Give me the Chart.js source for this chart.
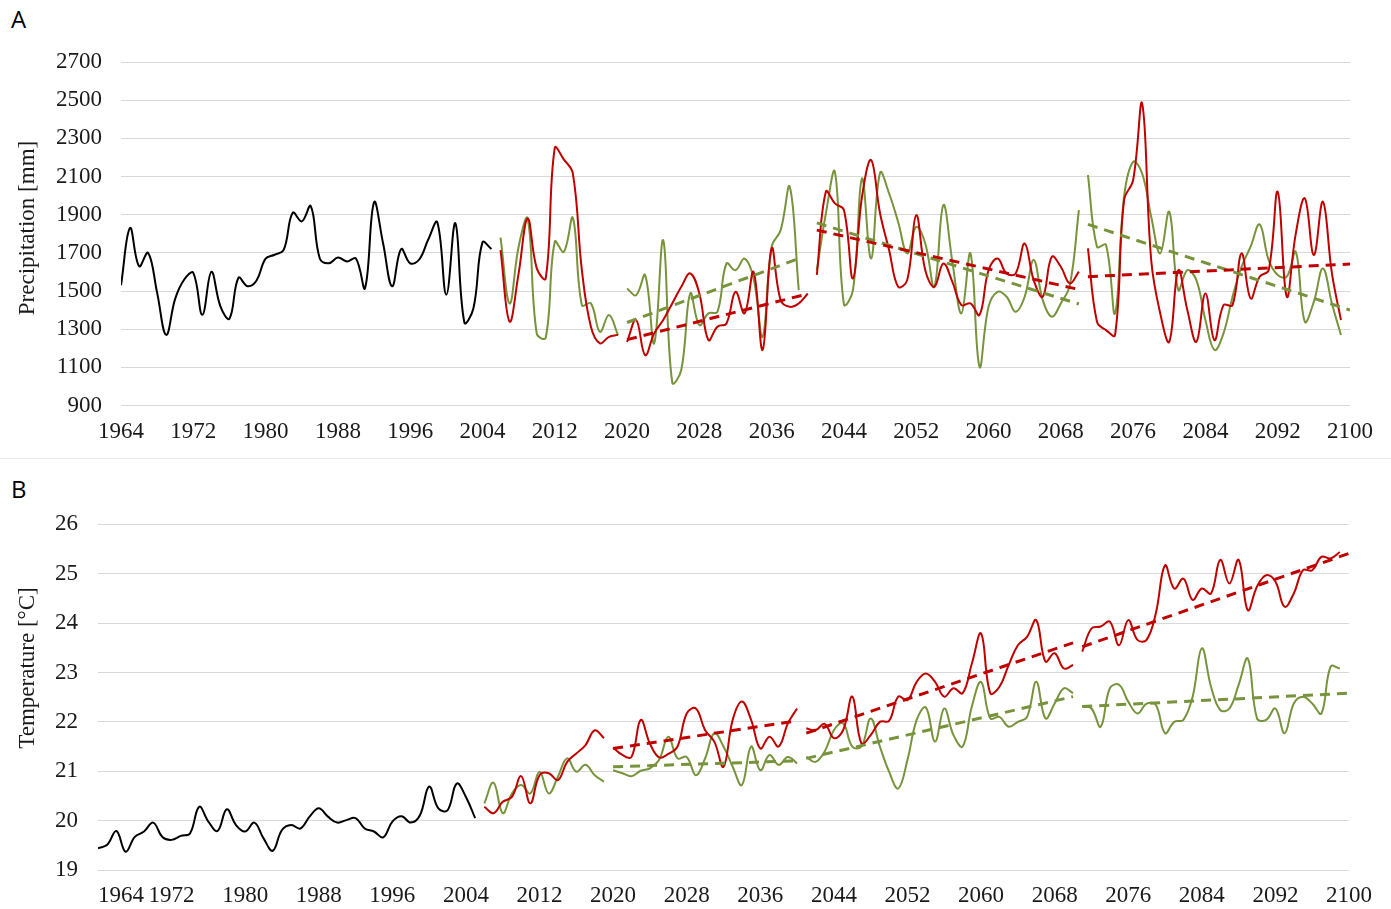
<!DOCTYPE html>
<html>
<head>
<meta charset="utf-8">
<title>Precipitation and temperature 1964–2100</title>
<script src="https://cdn.jsdelivr.net/npm/chart.js@4.4.1/dist/chart.umd.min.js"></script>
<style>
    html, body { margin: 0; padding: 0; background: #fff; }
    body { width: 1391px; height: 909px; position: relative; overflow: hidden; }
    .panel-label {
        position: absolute; left: 11px;
        font-family: 'Open Sans', 'Liberation Sans', sans-serif;
        font-size: 24px; line-height: 24px; color: #000;
    }
    .divider { position: absolute; left: 0; top: 458px; width: 1391px; height: 1px; background: #e6e6e6; }
    #precipChart { position: absolute; left: 0; top: 0; }
    #tempChart { position: absolute; left: 0; top: 460px; }
</style>
</head>
<body>
<div class="panel-label" style="top:7px">A</div>
<canvas id="precipChart" width="1391" height="458"></canvas>
<div class="divider"></div>
<div class="panel-label" style="top:477px">B</div>
<canvas id="tempChart" width="1391" height="449"></canvas>

<script>
// ---- Axis ranges / ticks ----
const YEAR_FIRST = 1964;
const YEAR_LAST = 2100;
const YEAR_STEP = 8;
const PRECIP_TICKS = [900, 2700, 200];   // min, max, step
const TEMP_TICKS = [19, 26, 1];

// ---- Precipitation [mm] ----
const precipObservedStart = 1964;
const precipObserved = [1530, 1830, 1630, 1700, 1490, 1270, 1460, 1560, 1595, 1375,
    1600, 1420, 1355, 1570, 1525, 1555, 1670, 1690, 1715, 1910,
    1865, 1945, 1670, 1645, 1675, 1655, 1670, 1515, 1965, 1750,
    1525, 1720, 1645, 1665, 1770, 1860, 1480, 1855, 1335, 1410,
    1755, 1720];

// red scenario, one array per period
const precipRed2006 = [1714, 1340, 1592, 1880, 1620, 1566, 2250, 2190, 2116, 1610, 1313, 1226, 1260, 1270];
const precipRed2020 = [1234, 1348, 1164, 1278, 1348, 1435, 1522, 1592, 1487, 1243, 1313, 1330, 1496, 1383,
    1600, 1191, 1723, 1452, 1417, 1435, 1487];
const precipRed2041 = [1584, 2020, 1959, 1924, 1566, 1994, 2186, 1906, 1714, 1522, 1557, 1897, 1609, 1522,
    1644, 1548, 1426, 1435, 1374, 1609, 1670, 1592, 1592, 1749, 1557, 1470, 1679, 1627, 1540, 1601];
const precipRed2071 = [1723, 1339, 1295, 1269, 1976, 2081, 2482, 1662, 1383, 1234, 1609, 1400, 1234, 1487,
    1243, 1426, 1426, 1697, 1461, 1575, 1609, 2020, 1470, 1801, 1985, 1688, 1968, 1592, 1348];

// green scenario
const precipGreen2006 = [1780, 1435, 1732, 1880, 1278, 1255, 1758, 1705, 1883, 1426, 1435, 1286, 1374, 1269];
const precipGreen2020 = [1513, 1478, 1583, 1226, 1766, 1020, 1086, 1487, 1321, 1383, 1391, 1644, 1609, 1670,
    1566, 1260, 1732, 1819, 2046, 1505];
const precipGreen2041 = [1609, 1906, 2124, 1430, 1505, 2089, 1670, 2120, 2011, 1862, 1697, 1836, 1749, 1522,
    1950, 1653, 1383, 1697, 1103, 1417, 1496, 1470, 1391, 1470, 1662, 1452, 1365, 1435, 1531, 1924];
const precipGreen2071 = [2107, 1732, 1741, 1383, 1994, 2177, 2116, 1889, 1697, 1915, 1505, 1609, 1557, 1348,
    1191, 1278, 1470, 1627, 1732, 1849, 1662, 1584, 1575, 1705, 1339, 1444, 1618, 1435, 1269];

// linear trends per period: [year, value] at both ends
const precipRedTrend2020 = [[2020, 1245], [2040, 1485]];
const precipRedTrend2041 = [[2041, 1819], [2070, 1508]];
const precipRedTrend2071 = [[2071, 1575], [2100, 1641]];
const precipGreenTrend2020 = [[2020, 1335], [2039, 1670]];
const precipGreenTrend2041 = [[2041, 1857], [2070, 1432]];
const precipGreenTrend2071 = [[2071, 1849], [2100, 1400]];

// ---- Temperature [°C] ----
const tempObservedStart = 1964;
const tempObserved = [19.44, 19.51, 19.79, 19.37, 19.67, 19.78, 19.96, 19.67, 19.61, 19.69,
    19.74, 20.28, 19.98, 19.79, 20.23, 19.91, 19.78, 19.96, 19.64, 19.39,
    19.81, 19.91, 19.84, 20.08, 20.25, 20.08, 19.96, 20.01, 20.05, 19.84,
    19.78, 19.66, 19.98, 20.09, 19.96, 20.11, 20.69, 20.25, 20.21, 20.75,
    20.48, 20.05];

const tempRed2006 = [20.28, 20.15, 20.38, 20.48, 20.90, 20.35, 20.92, 20.96, 20.82, 21.19, 21.36, 21.53, 21.83, 21.67];
const tempRed2020 = [21.48, 21.33, 21.29, 22.04, 21.56, 21.28, 21.35, 21.50, 22.17, 22.27, 21.83, 21.60, 21.09, 22.04,
    22.41, 22.04, 21.46, 21.70, 21.50, 21.97, 22.27];
const tempRed2041 = [21.87, 21.83, 21.96, 21.67, 21.83, 22.51, 21.56, 21.73, 22.00, 22.02, 22.51, 22.44, 22.81, 22.98,
    22.81, 22.51, 22.68, 22.58, 23.18, 23.79, 22.58, 22.71, 23.15, 23.55, 23.72, 24.06, 23.22, 23.39, 23.08, 23.15];
const tempRed2071 = [23.42, 23.89, 23.93, 24.03, 23.55, 24.06, 23.66, 23.66, 24.20, 25.17, 24.70, 24.90, 24.47, 24.70,
    24.60, 25.28, 24.80, 25.28, 24.26, 24.74, 24.97, 24.84, 24.33, 24.60, 25.07, 25.07, 25.34, 25.31, 25.44];

const tempGreen2006 = [20.35, 20.77, 20.15, 20.55, 20.72, 20.55, 20.99, 20.55, 20.89, 21.26, 20.99, 21.13, 20.92, 20.79];
const tempGreen2020 = [21.02, 20.96, 20.90, 21.01, 21.06, 21.23, 21.70, 21.26, 21.29, 20.92, 21.26, 21.77, 21.50, 21.09,
    20.72, 21.50, 21.02, 21.33, 21.13, 21.29, 21.16];
const tempGreen2041 = [21.29, 21.19, 21.40, 21.83, 21.97, 21.50, 21.50, 22.07, 21.50, 20.99, 20.65, 21.23, 22.04, 22.29,
    21.60, 22.27, 21.73, 21.50, 22.31, 22.81, 22.07, 22.10, 21.90, 22.00, 22.10, 22.81, 22.07, 22.37, 22.68, 22.58];
const tempGreen2071 = [22.31, 22.27, 21.90, 22.68, 22.75, 22.41, 22.17, 22.37, 22.34, 21.77, 22.00, 22.04, 22.51, 23.49,
    22.71, 22.24, 22.27, 22.75, 23.28, 22.07, 22.04, 22.27, 21.77, 22.37, 22.51, 22.37, 22.17, 23.12, 23.08];

const tempRedTrend2020 = [[2020, 21.46], [2040, 22.02]];
const tempRedTrend2041 = [[2041, 21.77], [2070, 23.60]];
const tempRedTrend2071 = [[2071, 23.52], [2100, 25.41]];
const tempGreenTrend2020 = [[2020, 21.09], [2040, 21.21]];
const tempGreenTrend2041 = [[2041, 21.26], [2070, 22.51]];
const tempGreenTrend2071 = [[2071, 22.31], [2100, 22.58]];

// ---- Styling ----
const RED = '#C00000';
const GREEN = '#77933C';
const BLACK = '#000000';
const GRID = '#d9d9d9';
const TICK_FONT = { family: "'Liberation Serif', 'Times New Roman', serif", size: 23 };
const TEXT_COLOR = '#1a1a1a';

/**
 * Turns a run of yearly values into {x, y} points starting at startYear.
 */
function toPoints(startYear, values) {
    return values.map((v, i) => ({ x: startYear + i, y: v }));
}

/**
 * Turns [[year, value], ...] pairs into {x, y} points.
 */
function pairsToPoints(pairs) {
    return pairs.map(([x, y]) => ({ x, y }));
}

/**
 * One smoothed series line, or a dashed trend line.
 */
function lineSet(label, data, color, dashed) {
    return {
        label: label,
        data: data,
        borderColor: color,
        borderWidth: dashed ? 3 : 2,
        borderDash: dashed ? [10, 7] : [],
        borderCapStyle: 'butt',
        pointRadius: 0,
        tension: dashed ? 0 : 0.4,
        fill: false
    };
}

// Draws the rotated y-axis title at a fixed spot left of the axis
const axisTitlePlugin = {
    id: 'axisTitle',
    afterDraw(chart, args, opts) {
        const ctx = chart.ctx;
        ctx.save();
        ctx.translate(opts.x, opts.y);
        ctx.rotate(-Math.PI / 2);
        ctx.font = `${TICK_FONT.size}px ${TICK_FONT.family}`;
        ctx.fillStyle = TEXT_COLOR;
        ctx.textAlign = 'center';
        ctx.textBaseline = 'middle';
        ctx.fillText(opts.text, 0, 0);
        ctx.restore();
    }
};

// Nudges the first x label right so it starts at the plot's left edge
const firstLabelPlugin = {
    id: 'firstLabel',
    beforeDraw(chart, args, opts) {
        if (!opts.shift) return;
        const items = chart.scales.x.getLabelItems();
        if (items.length && !items[0].shifted) {
            items[0].options.translation[0] += opts.shift;
            items[0].shifted = true;
        }
    }
};

/**
 * Builds the config for one panel.
 * @param {object} p - datasets, y range and layout numbers for the panel
 */
function createPanelConfig(p) {
    return {
        type: 'line',
        data: { datasets: p.datasets },
        plugins: [axisTitlePlugin, firstLabelPlugin],
        options: {
            responsive: false,
            animation: false,
            layout: { padding: p.padding },
            plugins: {
                legend: { display: false },
                tooltip: { enabled: false },
                axisTitle: p.title,
                firstLabel: { shift: p.firstLabelShift || 0 }
            },
            scales: {
                x: {
                    type: 'linear',
                    min: YEAR_FIRST,
                    max: YEAR_LAST,
                    grid: { display: false, drawTicks: false },
                    border: { display: false },
                    ticks: {
                        stepSize: YEAR_STEP,
                        autoSkip: false,
                        maxRotation: 0,
                        padding: p.xTickPadding,
                        font: TICK_FONT,
                        color: TEXT_COLOR,
                        callback: (v) => String(v)
                    },
                    afterFit: (scale) => { scale.height = p.xAxisHeight; }
                },
                y: {
                    min: p.yTicks[0],
                    max: p.yTicks[1],
                    grid: { color: GRID, lineWidth: 1, drawTicks: false },
                    border: { display: false },
                    ticks: {
                        stepSize: p.yTicks[2],
                        padding: p.yTickPadding,
                        font: TICK_FONT,
                        color: TEXT_COLOR,
                        callback: (v) => String(v)
                    },
                    afterFit: (scale) => { scale.width = p.yAxisWidth; }
                }
            }
        }
    };
}

// First dataset in the list is drawn on top
const precipDatasets = [
    lineSet('Red trend 2071', pairsToPoints(precipRedTrend2071), RED, true),
    lineSet('Red trend 2041', pairsToPoints(precipRedTrend2041), RED, true),
    lineSet('Red trend 2020', pairsToPoints(precipRedTrend2020), RED, true),
    lineSet('Green trend 2071', pairsToPoints(precipGreenTrend2071), GREEN, true),
    lineSet('Green trend 2041', pairsToPoints(precipGreenTrend2041), GREEN, true),
    lineSet('Green trend 2020', pairsToPoints(precipGreenTrend2020), GREEN, true),
    lineSet('Red 2006', toPoints(2006, precipRed2006), RED, false),
    lineSet('Red 2020', toPoints(2020, precipRed2020), RED, false),
    lineSet('Red 2041', toPoints(2041, precipRed2041), RED, false),
    lineSet('Red 2071', toPoints(2071, precipRed2071), RED, false),
    lineSet('Green 2006', toPoints(2006, precipGreen2006), GREEN, false),
    lineSet('Green 2020', toPoints(2020, precipGreen2020), GREEN, false),
    lineSet('Green 2041', toPoints(2041, precipGreen2041), GREEN, false),
    lineSet('Green 2071', toPoints(2071, precipGreen2071), GREEN, false),
    lineSet('Observed', toPoints(precipObservedStart, precipObserved), BLACK, false)
];

const tempDatasets = [
    lineSet('Red trend 2071', pairsToPoints(tempRedTrend2071), RED, true),
    lineSet('Red trend 2041', pairsToPoints(tempRedTrend2041), RED, true),
    lineSet('Red trend 2020', pairsToPoints(tempRedTrend2020), RED, true),
    lineSet('Green trend 2071', pairsToPoints(tempGreenTrend2071), GREEN, true),
    lineSet('Green trend 2041', pairsToPoints(tempGreenTrend2041), GREEN, true),
    lineSet('Green trend 2020', pairsToPoints(tempGreenTrend2020), GREEN, true),
    lineSet('Red 2006', toPoints(2006, tempRed2006), RED, false),
    lineSet('Red 2020', toPoints(2020, tempRed2020), RED, false),
    lineSet('Red 2041', toPoints(2041, tempRed2041), RED, false),
    lineSet('Red 2071', toPoints(2071, tempRed2071), RED, false),
    lineSet('Green 2006', toPoints(2006, tempGreen2006), GREEN, false),
    lineSet('Green 2020', toPoints(2020, tempGreen2020), GREEN, false),
    lineSet('Green 2041', toPoints(2041, tempGreen2041), GREEN, false),
    lineSet('Green 2071', toPoints(2071, tempGreen2071), GREEN, false),
    lineSet('Observed', toPoints(tempObservedStart, tempObserved), BLACK, false)
];

new Chart(document.getElementById('precipChart').getContext('2d'), createPanelConfig({
    datasets: precipDatasets,
    yTicks: PRECIP_TICKS,
    padding: { top: 62, right: 41, bottom: 0, left: 0 },
    xAxisHeight: 52.5,
    yAxisWidth: 121,
    xTickPadding: 13,
    yTickPadding: 19,
    title: { text: 'Precipitation [mm]', x: 28, y: 228 }
}));

new Chart(document.getElementById('tempChart').getContext('2d'), createPanelConfig({
    datasets: tempDatasets,
    yTicks: TEMP_TICKS,
    padding: { top: 64.3, right: 42, bottom: 0, left: 0 },
    xAxisHeight: 39,
    yAxisWidth: 98,
    xTickPadding: 12.5,
    yTickPadding: 20,
    firstLabelShift: 23,
    title: { text: 'Temperature [°C]', x: 28, y: 208 }
}));
</script>
</body>
</html>
